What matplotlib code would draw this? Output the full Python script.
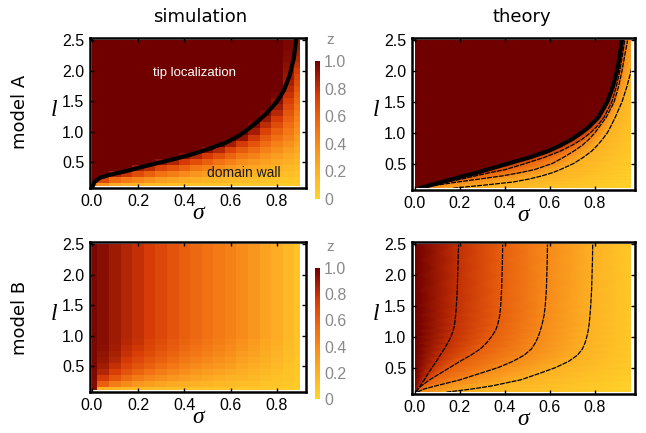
import numpy as np
import matplotlib.pyplot as plt
from matplotlib.colors import LinearSegmentedColormap
from matplotlib.patches import Rectangle

# ---- grids of the simulations
sigma_sim = [0.0, 0.05, 0.1, 0.15, 0.2, 0.25, 0.3, 0.35, 0.4, 0.45,
             0.5, 0.55, 0.6, 0.65, 0.7, 0.75, 0.8, 0.85, 0.9]
l_sim = [0.1, 0.2, 0.3, 0.4, 0.5, 0.6, 0.7, 0.8, 0.9, 1.0, 1.1, 1.2, 1.3,
         1.4, 1.5, 1.6, 1.7, 1.8, 1.9, 2.0, 2.1, 2.2, 2.3, 2.4, 2.5]

# model A, per sigma column: z from l=0.1 upwards, above that z=1
sim_a_low = [
    [0.5],
    [0.35, 0.7],
    [0.25, 0.55, 0.85],
    [0.2, 0.48, 0.78],
    [0.18, 0.42, 0.68, 0.88],
    [0.15, 0.36, 0.6, 0.82],
    [0.14, 0.3, 0.52, 0.72, 0.92],
    [0.12, 0.27, 0.46, 0.65, 0.85],
    [0.12, 0.24, 0.4, 0.58, 0.76, 0.93],
    [0.1, 0.21, 0.34, 0.5, 0.67, 0.84],
    [0.1, 0.19, 0.3, 0.44, 0.6, 0.76, 0.92],
    [0.1, 0.17, 0.27, 0.38, 0.52, 0.67, 0.84],
    [0.08, 0.15, 0.24, 0.33, 0.45, 0.58, 0.72, 0.88],
    [0.08, 0.14, 0.21, 0.29, 0.38, 0.5, 0.62, 0.76, 0.92],
    [0.07, 0.12, 0.19, 0.26, 0.34, 0.44, 0.54, 0.65, 0.77, 0.88, 0.96],
    [0.06, 0.1, 0.16, 0.23, 0.29, 0.36, 0.45, 0.54, 0.63, 0.73, 0.82, 0.9,
     0.96],
    [0.06, 0.1, 0.14, 0.19, 0.25, 0.31, 0.38, 0.45, 0.53, 0.6, 0.68, 0.76,
     0.83, 0.89, 0.94, 0.98],
    [0.05, 0.08, 0.12, 0.16, 0.21, 0.26, 0.31, 0.37, 0.43, 0.49, 0.54,
     0.59, 0.64, 0.69, 0.74, 0.79, 0.83, 0.87, 0.9, 0.92, 0.93, 0.95, 0.96,
     0.97, 0.97],
    [0.05, 0.07, 0.1, 0.13, 0.17, 0.2, 0.24, 0.28, 0.32, 0.36, 0.4, 0.44,
     0.48, 0.52, 0.56, 0.6, 0.64, 0.68, 0.72, 0.76, 0.8, 0.84, 0.87, 0.9,
     0.92],
]

# model B: z for l >= 1.0 per column, and the rows l = 0.1 ... 0.9
sim_b_top = [0.97, 0.94, 0.89, 0.84, 0.8, 0.75, 0.7, 0.65, 0.6, 0.56,
             0.52, 0.48, 0.44, 0.39, 0.34, 0.28, 0.22, 0.16, 0.1]
sim_b_low = [
    [0.95, 0.95, 0.96, 0.96, 0.97, 0.97, 0.97, 0.97, 0.97],
    [0.2, 0.6, 0.76, 0.84, 0.88, 0.91, 0.92, 0.93, 0.94],
    [0.18, 0.47, 0.64, 0.74, 0.8, 0.84, 0.86, 0.88, 0.89],
    [0.16, 0.4, 0.55, 0.65, 0.72, 0.76, 0.79, 0.81, 0.83],
    [0.15, 0.34, 0.48, 0.58, 0.65, 0.7, 0.74, 0.77, 0.79],
    [0.14, 0.3, 0.42, 0.52, 0.59, 0.64, 0.68, 0.71, 0.73],
    [0.13, 0.27, 0.38, 0.47, 0.54, 0.59, 0.63, 0.66, 0.68],
    [0.12, 0.24, 0.34, 0.42, 0.49, 0.54, 0.58, 0.61, 0.63],
    [0.12, 0.22, 0.31, 0.38, 0.44, 0.49, 0.53, 0.56, 0.58],
    [0.11, 0.2, 0.28, 0.34, 0.4, 0.45, 0.49, 0.52, 0.54],
    [0.1, 0.18, 0.25, 0.31, 0.36, 0.41, 0.45, 0.48, 0.5],
    [0.1, 0.16, 0.22, 0.28, 0.33, 0.37, 0.41, 0.44, 0.46],
    [0.09, 0.15, 0.2, 0.25, 0.3, 0.34, 0.37, 0.4, 0.42],
    [0.08, 0.13, 0.18, 0.22, 0.26, 0.29, 0.32, 0.35, 0.37],
    [0.08, 0.12, 0.16, 0.19, 0.22, 0.25, 0.28, 0.3, 0.32],
    [0.07, 0.1, 0.13, 0.16, 0.18, 0.21, 0.23, 0.25, 0.26],
    [0.06, 0.09, 0.11, 0.13, 0.15, 0.17, 0.18, 0.2, 0.21],
    [0.06, 0.08, 0.09, 0.1, 0.11, 0.12, 0.13, 0.14, 0.15],
    [0.05, 0.06, 0.07, 0.07, 0.08, 0.08, 0.09, 0.09, 0.1],
]

# domain wall line drawn over the model A simulation
wall_sim_sigma = [0.005, 0.012, 0.037, 0.08, 0.151, 0.22, 0.295, 0.37, 0.438,
                  0.51, 0.581, 0.64, 0.696, 0.75, 0.797, 0.83, 0.854, 0.872,
                  0.883]
wall_sim_l = [0.1, 0.17, 0.24, 0.29, 0.35, 0.42, 0.49, 0.56, 0.63, 0.72,
              0.82, 0.94, 1.1, 1.28, 1.48, 1.68, 1.92, 2.2, 2.52]

# ---- theory: contour positions (sigma) along rows of l
theory_a_l = [0.1, 0.15, 0.2, 0.25, 0.3, 0.35, 0.4, 0.5, 0.6, 0.7, 0.8, 0.9,
              1.0, 1.1, 1.25, 1.5, 1.75, 2.0, 2.25, 2.5]
# first row is the domain wall (z = 1 on its left), then the contours
theory_a_levels = [0.8, 0.6, 0.4, 0.2]
theory_a_sigma = [
    [0.02, 0.07, 0.12, 0.17, 0.22, 0.275, 0.32, 0.415, 0.51, 0.59, 0.65,
     0.7, 0.74, 0.775, 0.815, 0.855, 0.88, 0.898, 0.91, 0.92],
    [0.025, 0.08, 0.145, 0.21, 0.27, 0.33, 0.4, 0.49, 0.575, 0.645, 0.7,
     0.745, 0.78, 0.808, 0.84, 0.875, 0.895, 0.91, 0.922, 0.932],
    [0.03, 0.1, 0.19, 0.29, 0.39, 0.465, 0.53, 0.61, 0.66, 0.705, 0.745,
     0.775, 0.8, 0.82, 0.85, 0.885, 0.905, 0.92, 0.932, 0.945],
    [0.17, 0.31, 0.437, 0.51, 0.565, 0.61, 0.645, 0.705, 0.748, 0.785,
     0.812, 0.835, 0.855, 0.87, 0.89, 0.92, 0.942, 0.96, 0.975, 0.99],
]
theory_a_right = [0.0, 0.0, 0.0, 0.01, 0.01, 0.02, 0.02, 0.03, 0.03, 0.04,
                  0.04, 0.05, 0.05, 0.06, 0.07, 0.08, 0.1, 0.12, 0.14, 0.16]

theory_b_l = [0.1, 0.15, 0.2, 0.3, 0.4, 0.5, 0.6, 0.7, 0.8, 0.9, 1.0, 1.1,
              1.2, 1.35, 1.5, 1.75, 2.0, 2.25, 2.5]
theory_b_levels = [0.8, 0.6, 0.4, 0.2]
theory_b_sigma = [
    [0.003, 0.012, 0.022, 0.042, 0.058, 0.076, 0.095, 0.112, 0.13, 0.146,
     0.16, 0.17, 0.176, 0.181, 0.184, 0.188, 0.19, 0.192, 0.194],
    [0.005, 0.015, 0.028, 0.065, 0.11, 0.155, 0.2, 0.248, 0.29, 0.318, 0.34,
     0.358, 0.368, 0.377, 0.381, 0.385, 0.387, 0.389, 0.39],
    [0.01, 0.04, 0.09, 0.2, 0.285, 0.37, 0.435, 0.485, 0.517, 0.535, 0.548,
     0.557, 0.565, 0.574, 0.579, 0.584, 0.586, 0.588, 0.589],
    [0.14, 0.25, 0.34, 0.47, 0.55, 0.625, 0.683, 0.722, 0.744, 0.756, 0.764,
     0.77, 0.774, 0.778, 0.781, 0.785, 0.787, 0.789, 0.79],
]
theory_b_right = [0.0, 0.0, 0.0, 0.02, 0.03, 0.04, 0.04, 0.04, 0.04, 0.04,
                  0.04, 0.04, 0.04, 0.04, 0.04, 0.04, 0.04, 0.04, 0.04]

THEORY_MAX = 0.96
L_MIN, L_MAX = 0.1, 2.5

solar = LinearSegmentedColormap.from_list(
    "solar", [(0.0, "#ffd42a"), (0.25, "#fca822"), (0.5, "#f37614"),
              (0.75, "#d83c06"), (1.0, "#700000")])

plt.rcParams["font.family"] = "DejaVu Sans"

W, H = 646, 433
fig = plt.figure(figsize=(W / 100, H / 100), dpi=100)


def box(left, top, right, bottom):
    return [left / W, 1 - bottom / H, (right - left) / W, (bottom - top) / H]


def edges(c):
    c = np.asarray(c, dtype=float)
    mid = (c[1:] + c[:-1]) / 2
    return np.concatenate([[c[0]], mid, [c[-1]]])


def style(ax, xlim):
    ax.set_xlim(*xlim)
    ax.set_ylim(0.07, 2.54)
    ax.set_xticks([0, 0.2, 0.4, 0.6, 0.8])
    ax.set_xticklabels(["0.0", "0.2", "0.4", "0.6", "0.8"])
    ax.set_yticks([0.5, 1.0, 1.5, 2.0, 2.5])
    ax.set_yticklabels(["0.5", "1.0", "1.5", "2.0", "2.5"])
    ax.tick_params(direction="in", length=3, width=1, top=True, right=True,
                   labelsize=11.5, pad=4)
    for lbl in ax.get_xticklabels() + ax.get_yticklabels():
        lbl.set_family("Liberation Sans")
    for s in ax.spines.values():
        s.set_linewidth(1.8)
    ax.set_xlabel("σ", family="Liberation Serif", style="italic",
                  fontsize=17, va="center")
    ax.set_ylabel("l", family="Liberation Serif", style="italic",
                  fontsize=17, rotation=0, va="center", ha="center")
    width_px = ax.get_position().width * W
    ax.xaxis.set_label_coords(0.5, -0.17)
    ax.yaxis.set_label_coords(-36 / width_px, 0.52)


def colorbar(mappable, left, top, bottom):
    cax = fig.add_axes(box(left, top, left + 5, bottom))
    cb = fig.colorbar(mappable, cax=cax)
    cb.outline.set_visible(False)
    cb.set_ticks([0, 0.2, 0.4, 0.6, 0.8, 1.0])
    cb.set_ticklabels(["0", "0.2", "0.4", "0.6", "0.8", "1.0"])
    cax.tick_params(length=0, labelsize=11.5, labelcolor="#8a8a8a", pad=3)
    for lbl in cax.get_yticklabels():
        lbl.set_family("Liberation Sans")
    fig.text((left + 15) / W, 1 - (top - 21) / H, "z", color="#8a8a8a",
             fontsize=11, ha="center", va="center", family="Liberation Sans")


def theory_mesh(ax, l_rows, levels, sigma_rows, right, wall=False):
    sig = np.array(sigma_rows, dtype=float).T
    n = len(l_rows)
    lev = np.tile(levels, (n, 1))
    if wall:
        # z stays 1 up to the wall and drops to the first level there
        sig = np.column_stack([sig[:, 0], sig])
        lev = np.column_stack([np.ones(n), lev])
    X = np.column_stack([np.zeros(n), sig, np.full(n, 1.0)])
    Y = np.repeat(np.asarray(l_rows, dtype=float)[:, None], X.shape[1], axis=1)
    C = np.column_stack([np.ones(n), lev, np.asarray(right, dtype=float)])
    m = ax.pcolormesh(X, Y, C, cmap=solar, vmin=0, vmax=1, shading="gouraud")
    m.set_clip_path(Rectangle((0, L_MIN), THEORY_MAX, L_MAX - L_MIN,
                              transform=ax.transData))
    return m


def theory_lines(ax, l_rows, sigma_rows, widths):
    for sig, lw in zip(sigma_rows, widths):
        if lw > 2:
            ln, = ax.plot(sig, l_rows, color="black", lw=lw,
                          solid_capstyle="round")
        else:
            ln, = ax.plot(sig, l_rows, color="black", lw=lw,
                          ls=(0, (4, 0.8)))
        ln.set_clip_path(Rectangle((0, L_MIN), THEORY_MAX, L_MAX - L_MIN,
                                   transform=ax.transData))


# ---- model A, simulation
ax_sa = fig.add_axes(box(90, 38, 306, 188))
grid_a = np.ones((len(l_sim), len(sigma_sim)))
for k, col in enumerate(sim_a_low):
    grid_a[:len(col), k] = col
mesh = ax_sa.pcolormesh(edges(sigma_sim), edges(l_sim), grid_a, cmap=solar,
                        vmin=0, vmax=1)
ax_sa.plot(wall_sim_sigma, wall_sim_l, color="black", lw=3,
           solid_capstyle="round")
ax_sa.text(0.445, 1.97, "tip localization", color="white", fontsize=9.5,
           family="Liberation Sans", ha="center", va="center")
ax_sa.text(0.656, 0.32, "domain wall", color="#1a1a1a", fontsize=10,
           family="Liberation Sans", ha="center", va="center")
style(ax_sa, (-0.007, 0.925))
colorbar(mesh, 315, 61, 199)

# ---- model A, theory
ax_ta = fig.add_axes(box(412, 38, 635, 190))
theory_mesh(ax_ta, theory_a_l, theory_a_levels, theory_a_sigma,
            theory_a_right, wall=True)
theory_lines(ax_ta, theory_a_l, theory_a_sigma, [3, 0.9, 0.9, 0.9])
style(ax_ta, (-0.013, 0.978))

# ---- model B, simulation
ax_sb = fig.add_axes(box(90, 242, 306, 392))
grid_b = np.empty((len(l_sim), len(sigma_sim)))
low = np.array(sim_b_low).T
grid_b[:low.shape[0], :] = low
grid_b[low.shape[0]:, :] = sim_b_top
mesh_b = ax_sb.pcolormesh(edges(sigma_sim), edges(l_sim), grid_b, cmap=solar,
                          vmin=0, vmax=1)
style(ax_sb, (-0.007, 0.925))
colorbar(mesh_b, 315, 268, 399)

# ---- model B, theory
ax_tb = fig.add_axes(box(412, 242, 635, 394))
theory_mesh(ax_tb, theory_b_l, theory_b_levels, theory_b_sigma,
            theory_b_right)
theory_lines(ax_tb, theory_b_l, theory_b_sigma, [0.9] * 4)
style(ax_tb, (-0.013, 0.978))

# column and row headings
fig.text(200 / W, 1 - 17 / H, "simulation", fontsize=13, ha="center",
         va="center")
fig.text(522 / W, 1 - 17 / H, "theory", fontsize=13, ha="center",
         va="center")
fig.text(20 / W, 1 - 112 / H, "model A", fontsize=13, rotation=90,
         ha="center", va="center")
fig.text(20 / W, 1 - 318 / H, "model B", fontsize=13, rotation=90,
         ha="center", va="center")

fig.savefig("out.png", dpi=100)
